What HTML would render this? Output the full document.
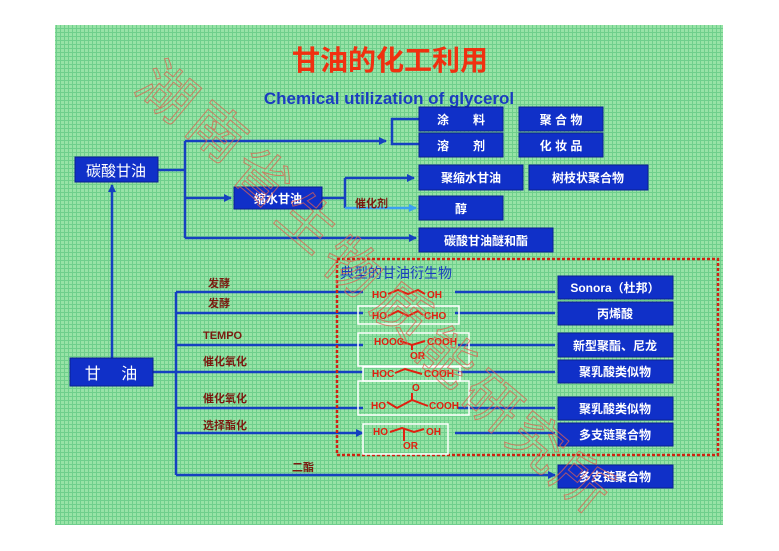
<!DOCTYPE html>
<html><head><meta charset="utf-8"><style>
html,body{margin:0;padding:0;background:#fff;}
svg{display:block;}
text{font-family:"Liberation Sans","Noto Sans CJK SC",sans-serif;}
</style></head><body>
<svg width="779" height="551" viewBox="0 0 779 551" xmlns="http://www.w3.org/2000/svg">
<defs>
<pattern id="g" width="4" height="4" patternUnits="userSpaceOnUse">
<rect width="4" height="4" fill="#97e3a6"/>
<path d="M0 0.5H4M0.5 0V4" stroke="#6fcf8c" stroke-width="1"/>
</pattern>
<marker id="a" markerWidth="8" markerHeight="8" refX="7" refY="4" orient="auto" markerUnits="userSpaceOnUse"><path d="M0 0L8 4L0 8z" fill="#1540c0"/></marker>
<marker id="b" markerWidth="8" markerHeight="8" refX="7" refY="4" orient="auto" markerUnits="userSpaceOnUse"><path d="M0 0L8 4L0 8z" fill="#3ba0f0"/></marker>
</defs>
<rect x="55" y="25" width="668" height="500" fill="url(#g)"/>
<text x="390" y="70" font-size="28" font-weight="bold" fill="#f03010" text-anchor="middle">甘油的化工利用</text>
<text x="389" y="104" font-size="17" font-weight="bold" fill="#1a3cc0" text-anchor="middle">Chemical utilization of glycerol</text>

<g stroke="#1540c0" stroke-width="2.5" fill="none">
<path d="M158 170H185M185 141V238"/>
<path d="M185 141H386" marker-end="url(#a)"/>
<path d="M419 119H392V144H419"/>
<path d="M185 198H231" marker-end="url(#a)"/>
<path d="M185 238H416" marker-end="url(#a)"/>
<path d="M322 198H345M345 178V208"/>
<path d="M345 178H414" marker-end="url(#a)"/>
<path d="M112 358V185" marker-end="url(#a)"/>
<path d="M153 372H176M176 292V475"/>
<path d="M176 292H363M176 313H363M176 345H363M176 372H363M176 408H363M176 433H363" marker-end="url(#a)"/>
<path d="M455 292H555M455 313H555M458 345H555M458 372H555M458 408H555M455 433H555M176 475H555" marker-end="url(#a)"/>
</g>
<path d="M345 208H416" stroke="#3ba0f0" stroke-width="2.5" marker-end="url(#b)"/>

<g fill="#1030c8" stroke="#0a1f90" stroke-width="1">
<rect x="75" y="157" width="83" height="25"/>
<rect x="419" y="107" width="84" height="24"/><rect x="519" y="107" width="84" height="24"/>
<rect x="419" y="133" width="84" height="24"/><rect x="519" y="133" width="84" height="24"/>
<rect x="419" y="165" width="104" height="25"/><rect x="529" y="165" width="119" height="25"/>
<rect x="234" y="187" width="88" height="22"/>
<rect x="419" y="196" width="84" height="24"/>
<rect x="419" y="228" width="134" height="24"/>
<rect x="70" y="358" width="83" height="28"/>
<rect x="558" y="276" width="115" height="23"/><rect x="558" y="302" width="115" height="23"/>
<rect x="558" y="333" width="115" height="24"/><rect x="558" y="360" width="115" height="23"/>
<rect x="558" y="397" width="115" height="23"/><rect x="558" y="423" width="115" height="23"/>
<rect x="558" y="465" width="115" height="23"/>
</g>
<g fill="#fff" font-size="12" font-weight="bold" text-anchor="middle">
<text x="116" y="176" font-size="15" font-weight="normal">碳酸甘油</text>
<text x="461" y="124">涂　　料</text><text x="561" y="124">聚 合 物</text>
<text x="461" y="150">溶　　剂</text><text x="561" y="150">化 妆 品</text>
<text x="471" y="182">聚缩水甘油</text><text x="588" y="182">树枝状聚合物</text>
<text x="278" y="203">缩水甘油</text>
<text x="461" y="213">醇</text>
<text x="486" y="245">碳酸甘油醚和酯</text>
<text x="111" y="379" font-size="16" font-weight="normal">甘　 油</text>
<text x="615" y="292">Sonora（杜邦）</text><text x="615" y="318">丙烯酸</text>
<text x="615" y="350">新型聚酯、尼龙</text><text x="615" y="376">聚乳酸类似物</text>
<text x="615" y="413">聚乳酸类似物</text><text x="615" y="439">多支链聚合物</text>
<text x="615" y="481">多支链聚合物</text>
</g>
<g fill="#7a1a10" font-size="11" font-weight="bold">
<text x="355" y="207">催化剂</text>
<text x="208" y="287">发酵</text><text x="208" y="307">发酵</text>
<text x="203" y="339">TEMPO</text><text x="203" y="365">催化氧化</text>
<text x="203" y="402">催化氧化</text><text x="203" y="429">选择酯化</text>
<text x="292" y="471">二酯</text>
</g>
<rect x="337" y="259" width="381" height="196" fill="none" stroke="#d02010" stroke-width="2.5" stroke-dasharray="3 2"/>
<text x="340" y="278" font-size="14" fill="#1a3cc0">典型的甘油衍生物</text>
<g fill="none" stroke="#fff" stroke-width="1.5">
<rect x="358" y="306" width="101" height="18"/><rect x="358" y="333" width="111" height="33"/>
<rect x="363" y="367" width="97" height="14"/><rect x="358" y="381" width="111" height="34"/>
<rect x="363" y="424" width="85" height="30"/>
</g>
<g fill="#e02010" font-size="10" font-weight="bold">
<text x="372" y="298">HO</text><text x="427" y="298">OH</text>
<text x="372" y="319">HO</text><text x="424" y="319">CHO</text>
<text x="374" y="345">HOOC</text><text x="427" y="345">COOH</text><text x="410" y="359">OR</text>
<text x="372" y="377">HOC</text><text x="424" y="377">COOH</text>
<text x="412" y="391">O</text><text x="371" y="409">HO</text><text x="429" y="409">COOH</text>
<text x="373" y="435">HO</text><text x="426" y="435">OH</text><text x="403" y="449">OR</text>
</g>
<g fill="none" stroke="#e02010" stroke-width="2">
<path d="M388 294L398 290L408 294L418 290L425 294"/>
<path d="M388 316L398 311L408 316L418 311L423 315"/>
<path d="M400 341L412 345L425 341M412 345V350"/>
<path d="M395 373L405 369L422 374"/>
<path d="M387 402L397 408L412 400L428 406M412 400V393"/>
<path d="M390 432L402 428L414 432L424 429M404 429V441"/>
</g>
<g font-size="56" fill="none" stroke="#e06050" stroke-width="1" opacity="0.75" font-family="'Noto Sans CJK SC',sans-serif">
<text x="140" y="110" transform="rotate(40 165 90)">湖</text>
<text x="190" y="150" transform="rotate(40 215 130)">南</text>
<text x="235" y="195" transform="rotate(40 260 175)">省</text>
<text x="280" y="240" transform="rotate(40 305 220)">生</text>
<text x="325" y="285" transform="rotate(40 350 265)">物</text>
<text x="375" y="330" transform="rotate(40 400 310)">质</text>
<text x="420" y="375" transform="rotate(40 445 355)">能</text>
<text x="465" y="420" transform="rotate(40 490 400)">研</text>
<text x="510" y="460" transform="rotate(40 535 440)">究</text>
<text x="555" y="500" transform="rotate(40 580 480)">所</text>
</g>
</svg>
</body></html>
